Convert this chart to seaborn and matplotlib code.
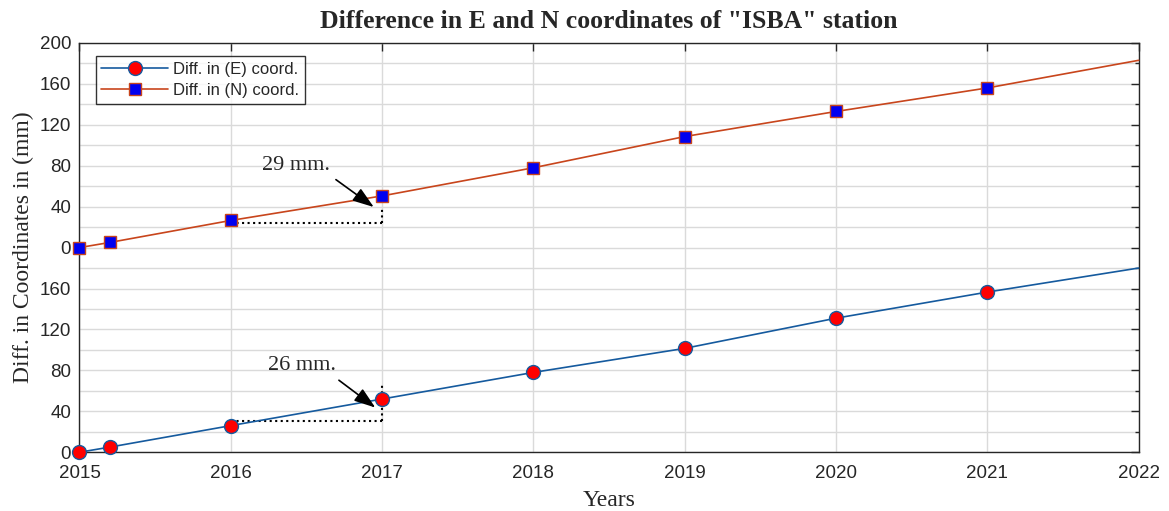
import numpy as np
import pandas as pd
import matplotlib
matplotlib.use('Agg')
import matplotlib.pyplot as plt
from matplotlib.ticker import MultipleLocator
import seaborn as sns

# Donnees (mm)
years = [2015, 2015.2, 2016, 2017, 2018, 2019, 2020, 2021, 2022]
diff_e = [0, 5, 26, 52, 78, 101.5, 131, 156.5, 180]
diff_n = [0, 5, 26.5, 50.5, 78, 108.5, 133, 156, 183]
n_offset = 200  # la courbe N est decalee vers le haut
ytick_labels = ['0', '40', '80', '120', '160', '0', '40', '80', '120', '160', '200']

sns.set_style('white')
plt.rcParams['font.family'] = ['Liberation Sans', 'DejaVu Sans']

df = pd.DataFrame({'year': years, 'E': diff_e,
                   'N': [v + n_offset for v in diff_n]})

fig, ax = plt.subplots(figsize=(11.69, 5.11), dpi=100)
fig.subplots_adjust(left=0.068, right=0.974, top=0.916, bottom=0.115)

sns.lineplot(data=df, x='year', y='E', ax=ax, color='#155A9E', lw=1.2,
             marker='o', markersize=10, markerfacecolor='red',
             markeredgecolor='#155A9E', markeredgewidth=1.0,
             markevery=list(range(len(years) - 1)), clip_on=False,
             label='Diff. in (E) coord.', zorder=3)
sns.lineplot(data=df, x='year', y='N', ax=ax, color='#C8451C', lw=1.2,
             marker='s', markersize=8.5, markerfacecolor='#0000F0',
             markeredgecolor='#C8451C', markeredgewidth=1.0,
             markevery=list(range(len(years) - 1)), clip_on=False,
             label='Diff. in (N) coord.', zorder=3)

# lignes pointillees + fleches d'annotation
ax.plot([2016, 2017], [n_offset + 24, n_offset + 24], ls=':', color='black', lw=1.5)
ax.plot([2017, 2017], [n_offset + 24, n_offset + 40], ls=':', color='black', lw=1.5)
ax.plot([2016, 2017], [31, 31], ls=':', color='black', lw=1.5)
ax.plot([2017, 2017], [31, 66], ls=':', color='black', lw=1.5)

arrow = dict(arrowstyle='-|>,head_length=1.3,head_width=0.45', color='black', lw=1.2)
ax.annotate('', xy=(2016.96, n_offset + 38), xytext=(2016.68, n_offset + 68),
            arrowprops=arrow)
ax.annotate('', xy=(2016.97, 42), xytext=(2016.70, 72), arrowprops=arrow)
ax.text(2016.43, n_offset + 80, '29 mm.', family='Liberation Serif', fontsize=16,
        ha='center', va='center')
ax.text(2016.47, 85, '26 mm.', family='Liberation Serif', fontsize=16,
        ha='center', va='center')

ax.set_xlim(2015, 2022)
ax.set_ylim(0, 400)
ax.set_xticks(range(2015, 2023))
ax.set_yticks(np.arange(0, 401, 40))
ax.set_yticklabels(ytick_labels)
ax.yaxis.set_minor_locator(MultipleLocator(20))
ax.tick_params(axis='both', which='both', direction='in', top=True, right=True,
               labelsize=13.5, colors='#262626')
ax.tick_params(axis='x', which='major', pad=9)
ax.tick_params(axis='y', which='major', pad=6)
ax.tick_params(which='major', length=6, width=1)
ax.tick_params(which='minor', length=3, width=1)
ax.grid(True, which='major', color='#dadada', lw=1)
ax.grid(True, which='minor', axis='y', color='#dadada', lw=1)
for sp in ax.spines.values():
    sp.set_color('#262626')
    sp.set_linewidth(1)

ax.set_title('Difference in E and N coordinates of "ISBA" station',
             family='Liberation Serif', fontweight='bold', fontsize=18.5, pad=11)
ax.set_xlabel('Years', family='Liberation Serif', fontsize=17, labelpad=6)
ax.set_ylabel('Diff. in Coordinates in (mm)', family='Liberation Serif',
              fontsize=17, labelpad=4)

leg = ax.legend(loc='upper left', bbox_to_anchor=(0.012, 0.975), fontsize=12,
                frameon=True, fancybox=False, edgecolor='black',
                borderpad=0.35, labelspacing=0.35, handlelength=4.0,
                handletextpad=0.3, borderaxespad=0.2)
leg.get_frame().set_linewidth(1)

plt.savefig('out.png', dpi=100)
